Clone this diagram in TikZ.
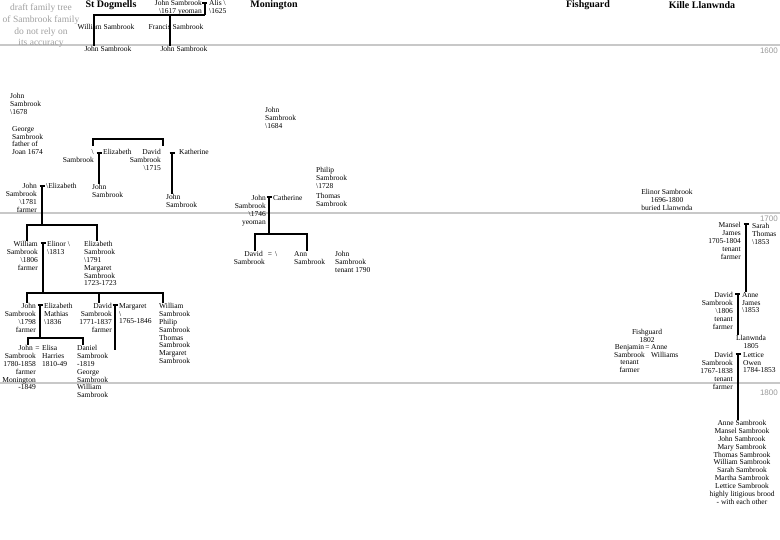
\documentclass[tikz,border=0pt]{standalone}
\usepackage{fontspec}
\setmainfont{Liberation Serif}
\newfontfamily\yearfont{Liberation Sans}
\usepackage{tikz}
\usetikzlibrary{arrows.meta}
\definecolor{eragray}{HTML}{C8C8C8}
\definecolor{yeargray}{HTML}{9A9A9A}
\definecolor{notegray}{HTML}{A0A0A0}
\newcommand{\dmark}{\textbackslash}

\begin{document}
\begin{tikzpicture}[x=1pt, y=-1pt,
  person/.style={font=\fontsize{7.5}{7.9}\selectfont, inner sep=0pt},
  husb/.style={person, anchor=north east, align=right},
  wife/.style={person, anchor=north west, align=left},
  kid/.style={person, anchor=north, align=center},
  wedsign/.style={person, anchor=center},
  parish/.style={font=\bfseries\fontsize{10}{12}\selectfont, inner sep=0pt},
  era/.style={eragray, line width=2.5pt},
  yearlbl/.style={font=\yearfont\fontsize{8}{9}\selectfont, text=yeargray, inner sep=0pt, anchor=north east},
  wed/.style={line width=2pt, arrows={Bar[width=5pt]-}},
  kin/.style={line width=2pt}]

  \useasboundingbox (0,0) rectangle (780,540);

  % Century rules
  \foreach \yr/\ly/\ty in {1600/45/48, 1700/213/216, 1800/383/390} {
    \draw[era] (0,\ly) -- (780,\ly);
    \node[yearlbl] (yr\yr) at (778,\ty) {\yr};
  }

  % Note and parishes
  \node[font=\fontsize{9.5}{11.7}\selectfont, text=notegray, align=center, anchor=north, inner sep=0pt] (note) at (41,4) {draft family tree\\of Sambrook family\\do not rely on\\its accuracy};
  \node[parish] (stdog) at (111,5) {St Dogmells};
  \node[parish] (moning) at (274,5) {Monington};
  \node[parish] (fishg) at (588,5) {Fishguard};
  \node[parish] (llanw) at (702,5) {Kille Llanwnda};

  % St Dogmells: John = Alis
  \node[husb] (john1617) at (202,0.5) {John Sambrook\\\dmark1617 yeoman};
  \node[wife] (alis) at (209,0.5) {Alis \dmark\\\dmark1625};
  \node[kid] (william1) at (106,24) {William Sambrook};
  \node[kid] (francis) at (176,24) {Francis Sambrook};
  \node[kid] (john1a) at (108,46) {John Sambrook};
  \node[kid] (john1b) at (184,46) {John Sambrook};
  \coordinate (w1617) at (204.5,2);
  \coordinate (k1617) at (204.5,15);
  \coordinate (k1617w) at (94,15);
  \coordinate (k1617f) at (170,15);
  \draw[wed] (w1617) -- (k1617);
  \draw[kin] (k1617) -- (k1617w) -- (k1617w |- john1a.north);
  \draw[kin] (k1617f) -- (k1617f |- john1b.north);

  % loose entries
  \node[wife] (john1678) at (10,93) {John\\Sambrook\\\dmark1678};
  \node[wife] (george) at (12,126) {George\\Sambrook\\father of\\Joan 1674};

  % two Sambrook brothers
  \node[husb] (sam1) at (94,149) {\dmark\\Sambrook};
  \node[wife] (eliz1) at (103,149) {Elizabeth};
  \node[wife] (john2a) at (92,184) {John\\Sambrook};
  \node[husb] (david1715) at (161,149) {David\\Sambrook\\\dmark1715};
  \node[wife] (kath) at (179,149) {Katherine};
  \node[wife] (john2b) at (166,194) {John\\Sambrook};
  \coordinate (sib1) at (93,139);
  \coordinate (sib2) at (163,139);
  \draw[kin] ([yshift=3pt]sib1 |- sam1.north) -- (sib1) -- (sib2) -- ([yshift=3pt]sib2 |- david1715.north);
  \coordinate (w1) at (99,152);
  \coordinate (w1715) at (172,152);
  \draw[wed] (w1) -- (w1 |- john2a.north);
  \draw[wed] (w1715) -- (w1715 |- john2b.north);

  % John = Elizabeth, c.1781
  \node[husb] (john1781) at (37,183) {John\\Sambrook\\\dmark1781\\farmer};
  \node[wife] (eliz2) at (46,183) {\dmark Elizabeth};
  \node[husb] (william2) at (38,241) {William\\Sambrook\\\dmark1806\\farmer};
  \node[wife] (elinor) at (47,241) {Elinor \dmark\\\dmark1813};
  \node[wife] (eliz3) at (84,241) {Elizabeth\\Sambrook\\\dmark1791\\Margaret\\Sambrook\\1723-1723};
  \coordinate (w1781) at (42,185);
  \coordinate (k1781) at (42,225);
  \coordinate (k1781a) at (27,225);
  \coordinate (k1781b) at (97,225);
  \draw[wed] (w1781) -- (k1781);
  \draw[kin] (k1781a |- william2.north) -- (k1781a) -- (k1781b) -- (k1781b |- eliz3.north);

  % William = Elinor
  \node[husb] (john1798) at (36,303) {John\\Sambrook\\\dmark1798\\farmer};
  \node[wife] (mathias) at (44,303) {Elizabeth\\Mathias\\\dmark1836};
  \node[husb] (david1837) at (112,303) {David\\Sambrook\\1771-1837\\farmer};
  \node[wife] (marg1846) at (119,303) {Margaret\\\dmark\\1765-1846};
  \node[wife] (william3) at (159,303) {William\\Sambrook\\Philip\\Sambrook\\Thomas\\Sambrook\\Margaret\\Sambrook};
  \coordinate (w1806) at (43,242);
  \coordinate (k1806) at (43,293);
  \coordinate (k1806a) at (27,293);
  \coordinate (k1806b) at (99,293);
  \coordinate (k1806c) at (163,293);
  \draw[wed] (w1806) -- (k1806);
  \draw[kin] (k1806a |- john1798.north) -- (k1806a) -- (k1806c) -- (k1806c |- william3.north);
  \draw[kin] (k1806b) -- (k1806b |- david1837.north);
  \coordinate (w1837) at (115,304);
  \coordinate (k1837) at (115,350);
  \draw[wed] (w1837) -- (k1837);

  % John = Elizabeth Mathias
  \node[husb] (john1858) at (36,345) {John\kern3pt\\Sambrook\\1780-1858\\farmer\\Monington\\-1849};
  \node[wedsign] (eq1) at (37.5,349) {=};
  \node[wife] (elisa) at (42,345) {Elisa\\Harries\\1810-49};
  \node[wife] (daniel) at (77,345) {Daniel\\Sambrook\\-1819\\George\\Sambrook\\William\\Sambrook};
  \coordinate (w1798) at (40,304);
  \coordinate (k1798) at (40,338);
  \coordinate (k1798a) at (28,338);
  \coordinate (k1798b) at (83,338);
  \draw[wed] (w1798) -- (k1798);
  \draw[kin] (k1798a |- john1858.north) -- (k1798a) -- (k1798b) -- (k1798b |- daniel.north);

  % Monington
  \node[wife] (john1684) at (265,107) {John\\Sambrook\\\dmark1684};
  \node[wife] (philip) at (316,167) {Philip\\Sambrook\\\dmark1728};
  \node[wife] (thomas1) at (316,193) {Thomas\\Sambrook};
  \node[husb] (john1746) at (266,195) {John\\Sambrook\\\dmark1746\\yeoman};
  \node[wife] (cath) at (273,195) {Catherine};
  \node[husb] (david2) at (265,251) {David\kern2pt\\Sambrook};
  \node[wedsign] (eq2) at (270,255) {=};
  \node[wife] (wife2) at (275,251) {\dmark};
  \node[wife] (ann) at (294,251) {Ann\\Sambrook};
  \node[wife] (john1790) at (335,251) {John\\Sambrook\\tenant 1790};
  \coordinate (w1746) at (269,196);
  \coordinate (k1746) at (269,234);
  \coordinate (k1746a) at (255,234);
  \coordinate (k1746b) at (307,234);
  \draw[wed] (w1746) -- (k1746);
  \draw[kin] (k1746a |- david2.north) -- (k1746a) -- (k1746b) -- (k1746b |- ann.north);

  % Fishguard
  \node[kid] (fish1802) at (647,329) {Fishguard\\1802};
  \node[kid] (benj) at (629.5,344) {Benjamin\\Sambrook\\tenant\\farmer};
  \node[wedsign] (eq3) at (647.5,348) {=};
  \node[wife] (anne2) at (651,344) {Anne\\Williams};

  % Kille Llanwnda
  \node[kid] (elinor1800) at (667,189) {Elinor Sambrook\\1696-1800\\buried Llanwnda};
  \node[husb] (mansel) at (741,222) {Mansel\\James\\1705-1804\\tenant\\farmer};
  \node[wife] (sarah) at (752,223) {Sarah\\Thomas\\\dmark1853};
  \node[husb] (david1806) at (733,292) {David\\Sambrook\\\dmark1806\\tenant\\farmer};
  \node[wife] (anne1) at (742,292) {Anne\\James\\\dmark1853};
  \node[kid] (llan1805) at (751,335) {Llanwnda\\1805};
  \node[husb] (david1838) at (733,352) {David\\Sambrook\\1767-1838\\tenant\\farmer};
  \node[wife] (lettice) at (743,352) {Lettice\\Owen\\1784-1853};
  \node[kid] (brood) at (742,420) {Anne Sambrook\\Mansel Sambrook\\John Sambrook\\Mary Sambrook\\Thomas Sambrook\\William Sambrook\\Sarah Sambrook\\Martha Sambrook\\Lettice Sambrook\\highly litigious brood\\- with each other};
  \coordinate (w1804) at (746,223);
  \coordinate (w1806) at (737.5,293);
  \coordinate (w1838) at (738,353);
  \draw[wed] (w1804) -- (w1804 |- anne1.north);
  \draw[wed] (w1806) -- (w1806 |- llan1805.north);
  \draw[wed] (w1838) -- (w1838 |- brood.north);

\end{tikzpicture}
\end{document}
